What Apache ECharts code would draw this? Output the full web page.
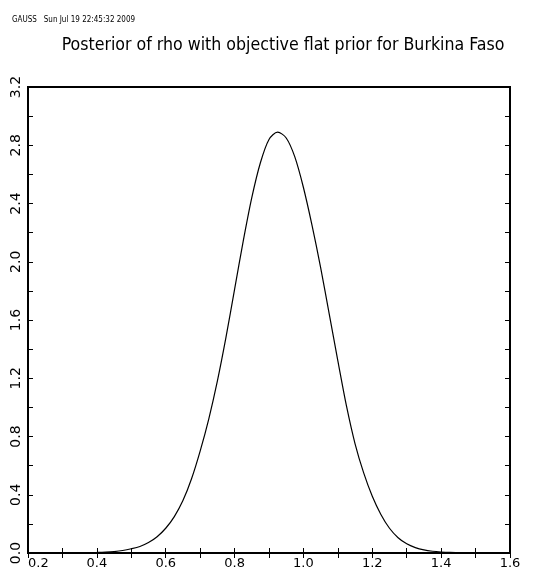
<!DOCTYPE html>
<html>
<head>
<meta charset="utf-8">
<script src="https://cdn.jsdelivr.net/npm/echarts@6/dist/echarts.min.js"></script>
<style>
  html, body { margin: 0; padding: 0; background: #fff; }
  #chart { width: 549px; height: 579px; }
</style>
</head>
<body>
<div id="chart"></div>
<script>
// rho values and posterior density
const rho = [0.400, 0.425, 0.450, 0.475, 0.500, 0.525, 0.550, 0.575, 0.600, 0.625,
  0.650, 0.675, 0.700, 0.725, 0.750, 0.775, 0.800, 0.825, 0.850, 0.875,
  0.900, 0.925, 0.950, 0.975, 1.000, 1.025, 1.050, 1.075, 1.100, 1.125,
  1.150, 1.175, 1.200, 1.225, 1.250, 1.275, 1.300, 1.325, 1.350, 1.375,
  1.400, 1.425, 1.450, 1.475, 1.500];
const density = [0.004, 0.006, 0.010, 0.017, 0.029, 0.045, 0.072, 0.112, 0.170, 0.250,
  0.36, 0.51, 0.70, 0.92, 1.18, 1.48, 1.81, 2.14, 2.44, 2.68,
  2.84, 2.89, 2.85, 2.72, 2.51, 2.25, 1.96, 1.64, 1.32, 1.01,
  0.75, 0.55, 0.39, 0.265, 0.17, 0.105, 0.063, 0.037, 0.021, 0.012,
  0.007, 0.004, 0.003, 0.002, 0.001];

const stamp = "GAUSS   Sun Jul 19 22:45:32 2009";
const titleText = "Posterior of rho with objective flat prior for Burkina Faso";

const chart = echarts.init(document.getElementById("chart"));

const tickStyle = { show: true, inside: true, length: 5, lineStyle: { color: "#000", width: 1 } };
const minorStyle = { show: true, splitNumber: 2, length: 5, lineStyle: { color: "#000", width: 1 } };

chart.setOption({
  backgroundColor: "#fff",
  animation: false,
  title: [
    {
      text: stamp,
      left: 7,
      top: 11,
      textStyle: { fontFamily: "DejaVu Sans Condensed", fontSize: 8, fontWeight: "normal", color: "#000" }
    },
    {
      text: titleText,
      left: 278,
      textAlign: "center",
      top: 31,
      textStyle: { fontFamily: "DejaVu Sans Condensed", fontSize: 17.6, fontWeight: "normal", color: "#000" }
    }
  ],
  grid: {
    left: 28,
    right: 39,
    top: 87,
    bottom: 26,
    show: true,
    borderColor: "#000",
    borderWidth: 2
  },
  xAxis: [
    {
      type: "value",
      min: 0.2,
      max: 1.6,
      interval: 0.2,
      axisLine: { show: false },
      axisTick: tickStyle,
      minorTick: minorStyle,
      splitLine: { show: false },
      axisLabel: {
        margin: 4,
        alignMinLabel: "left",
        fontFamily: "DejaVu Sans",
        fontSize: 13,
        color: "#000",
        formatter: v => v.toFixed(1)
      }
    },
    {
      type: "value",
      position: "top",
      min: 0.2,
      max: 1.6,
      interval: 0.2,
      axisLine: { show: false },
      axisTick: tickStyle,
      minorTick: minorStyle,
      splitLine: { show: false },
      axisLabel: { show: false }
    }
  ],
  yAxis: [
    {
      type: "value",
      min: 0,
      max: 3.2,
      interval: 0.4,
      axisLine: { show: false },
      axisTick: tickStyle,
      minorTick: minorStyle,
      splitLine: { show: false },
      axisLabel: {
        rotate: 90,
        margin: 5,
        fontFamily: "DejaVu Sans",
        fontSize: 14,
        color: "#000",
        formatter: v => v.toFixed(1)
      }
    },
    {
      type: "value",
      position: "right",
      min: 0,
      max: 3.2,
      interval: 0.4,
      axisLine: { show: false },
      axisTick: tickStyle,
      minorTick: minorStyle,
      splitLine: { show: false },
      axisLabel: { show: false }
    }
  ],
  series: [
    {
      type: "line",
      data: rho.map((x, i) => [x, density[i]]),
      smooth: 0.3,
      showSymbol: false,
      lineStyle: { color: "#000", width: 1.2 }
    }
  ]
});
</script>
</body>
</html>
